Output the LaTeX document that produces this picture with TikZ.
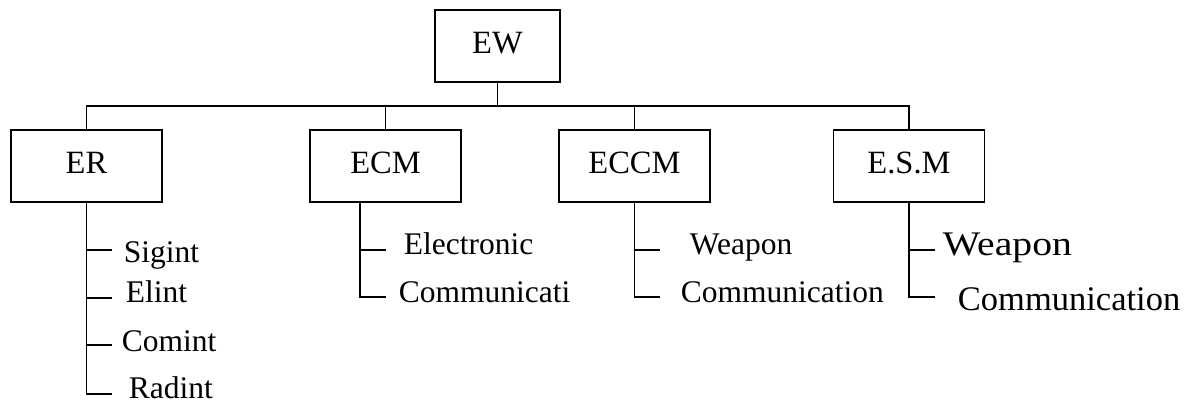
\documentclass[tikz,border=0pt]{standalone}
\usepackage{fontspec}
\setmainfont{Liberation Serif}
\begin{document}
\begin{tikzpicture}[x=1pt,y=-1pt,line width=1.9pt,
  box/.style={draw, minimum width=151pt, minimum height=72pt, inner sep=0pt,
    font=\fontsize{32.5}{36}\selectfont, text height=22pt, text depth=6pt},
  leaf/.style={anchor=base west, inner sep=0pt, font=\fontsize{31.5}{36}\selectfont},
  bigleaf/.style={leaf, font=\fontsize{34.5}{38}\selectfont},
  conn/.style={line width=1.9pt}]
\useasboundingbox (0,0) rectangle (1195,406);
% boxes
\node[box, minimum width=125pt] (ew) at (497.5,46) {EW};
\node[box] (er) at (86.5,166) {ER};
\node[box] (ecm) at (385.5,166) {ECM};
\node[box] (eccm) at (634.5,166) {ECCM};
\node[box] (esm) at (909,166) {E.S.M};
% bus
\coordinate (bus) at (0,106);
\draw[conn] (ew.south) -- (ew.south |- bus);
\draw[conn] (er.north) -- (er.north |- bus) -- (esm.north |- bus) -- (esm.north);
\draw[conn] (ecm.north) -- (ecm.north |- bus);
\draw[conn] (eccm.north) -- (eccm.north |- bus);
% leaves
\node[leaf] (sigint) at (123,263) {Sigint};
\node[leaf] (elint) at (125,303) {Elint};
\node[leaf] (comint) at (121,351) {Comint};
\node[leaf] (radint) at (128,398) {Radint};
\node[leaf] (elec) at (403,255) {Electronic};
\node[leaf] (comm1) at (398,302) {Communicati};
\node[leaf] (weap1) at (689,255) {Weapon};
\node[leaf] (comm2) at (680,302) {Communication};
\node[bigleaf] (weap2) at (942,256) {\scalebox{1.15}[1]{Weapon}};
\node[bigleaf] (comm3) at (957,311) {Communication};
% ER branch
\coordinate (ertop) at (er.south);
\coordinate (er1) at (86.5,250);
\coordinate (er2) at (86.5,298);
\coordinate (er3) at (86.5,345);
\coordinate (er4) at (86.5,394);
\draw[conn] (ertop) -- (er4) -- ++(25,0) coordinate (er4e);
\draw[conn] (er1) -- ++(25,0) coordinate (er1e);
\draw[conn] (er2) -- ++(25,0) coordinate (er2e);
\draw[conn] (er3) -- ++(25,0) coordinate (er3e);
% ECM branch
\coordinate (ecmtop) at (360,202);
\coordinate (ecm1) at (360,250);
\coordinate (ecm2) at (360,297);
\draw[conn] (ecmtop) -- (ecm2) -- ++(26,0) coordinate (ecm2e);
\draw[conn] (ecm1) -- ++(26,0) coordinate (ecm1e);
% ECCM branch
\coordinate (eccm1) at (634.5,250);
\coordinate (eccm2) at (634.5,297);
\draw[conn] (eccm.south) -- (eccm2) -- ++(25,0) coordinate (eccm2e);
\draw[conn] (eccm1) -- ++(25,0) coordinate (eccm1e);
% ESM branch
\coordinate (esm1) at (909,250);
\coordinate (esm2) at (909,297);
\draw[conn] (esm.south) -- (esm2) -- ++(26,0) coordinate (esm2e);
\draw[conn] (esm1) -- ++(26,0) coordinate (esm1e);
\end{tikzpicture}
\end{document}
